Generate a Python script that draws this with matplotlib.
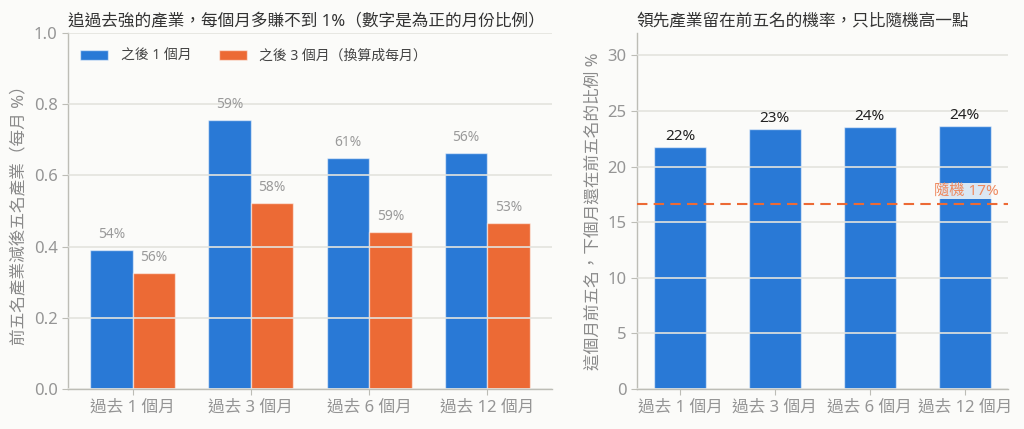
import matplotlib
matplotlib.use("Agg")
import matplotlib.pyplot as plt
import numpy as np

plt.rcParams['font.family'] = ['Noto Sans', 'Noto Sans CJK TC', 'DejaVu Sans']

# Data
categories = ['過去 1 個月', '過去 3 個月', '過去 6 個月', '過去 12 個月']
spread_1m = [0.390, 0.756, 0.649, 0.663]
spread_3m = [0.326, 0.522, 0.441, 0.466]
pos_1m = ['54%', '59%', '61%', '56%']
pos_3m = ['56%', '58%', '59%', '53%']
persist = [21.8, 23.36, 23.54, 23.63]
persist_labels = ['22%', '23%', '24%', '24%']
random_level = 100 / 6

BLUE = '#2979D6'
ORANGE = '#EC6A35'
BG = '#FBFBF9'
GRID = '#E3E3DE'
SPINE = '#BDBDB6'
TICK = '#959595'
TITLE = '#333333'

fig = plt.figure(figsize=(10.24, 4.29), dpi=100, facecolor=BG)
ax1 = fig.add_axes([0.0664, 0.0932, 0.4727, 0.8298])
ax2 = fig.add_axes([0.622, 0.0932, 0.362, 0.8298])

edge = (1, 1, 1, 0.55)

def style(ax):
    ax.set_facecolor(BG)
    for s in ['top', 'right']:
        ax.spines[s].set_visible(False)
    for s in ['left', 'bottom']:
        ax.spines[s].set_color(SPINE)
        ax.spines[s].set_linewidth(1.0)
    ax.tick_params(colors=SPINE, labelcolor=TICK, labelsize=12, length=4)
    ax.grid(axis='y', color=GRID, linewidth=1.2, zorder=3)
    ax.set_axisbelow(False)

# Left chart
x = np.arange(len(categories))
w = 0.36
style(ax1)
b1 = ax1.bar(x - w/2, spread_1m, w, color=BLUE, edgecolor=edge, linewidth=1, label='之後 1 個月', zorder=2)
b2 = ax1.bar(x + w/2, spread_3m, w, color=ORANGE, edgecolor=edge, linewidth=1, label='之後 3 個月（換算成每月）', zorder=2)
for rect, t in zip(b1, pos_1m):
    ax1.annotate(t, (rect.get_x() + rect.get_width()/2, rect.get_height()), xytext=(0, 6),
                 textcoords='offset points', ha='center', va='bottom', fontsize=10, color='#9A9A9A')
for rect, t in zip(b2, pos_3m):
    ax1.annotate(t, (rect.get_x() + rect.get_width()/2, rect.get_height()), xytext=(0, 6),
                 textcoords='offset points', ha='center', va='bottom', fontsize=10, color='#9A9A9A')
ax1.set_ylim(0, 1.0)
ax1.set_yticks([0.0, 0.2, 0.4, 0.6, 0.8, 1.0])
ax1.set_xticks(x)
ax1.set_xticklabels(categories)
ax1.set_ylabel('前五名產業減後五名產業（每月 %）', fontsize=12, color='#8A8A8A', labelpad=4)
ax1.set_title('追過去強的產業，每個月多賺不到 1%（數字是為正的月份比例）', loc='left',
              fontsize=12, color=TITLE, pad=5)
leg = ax1.legend(loc='upper left', ncol=2, frameon=False, fontsize=10, handlelength=2.0,
                 handleheight=0.7, handletextpad=0.9, columnspacing=2.0, bbox_to_anchor=(0.0, 0.99))
for t in leg.get_texts():
    t.set_color('#444444')

# Right chart
style(ax2)
wb = 0.55
b3 = ax2.bar(x, persist, wb, color=BLUE, edgecolor=edge, linewidth=1, zorder=2)
for rect, t in zip(b3, persist_labels):
    ax2.annotate(t, (rect.get_x() + rect.get_width()/2, rect.get_height()), xytext=(0, 2),
                 textcoords='offset points', ha='center', va='bottom', fontsize=11, color='#222222')
ax2.axhline(random_level, color=ORANGE, linestyle=(0, (5, 3)), linewidth=1.5, zorder=4)
ax2.text(3.36, random_level + 0.45, '隨機 17%', ha='right', va='bottom', fontsize=11,
         color='#EE8A60', zorder=5,
         bbox=dict(facecolor=BG, edgecolor='none', alpha=0.85, pad=0.5))
ax2.set_ylim(0, 32)
ax2.set_yticks([0, 5, 10, 15, 20, 25, 30])
ax2.set_xticks(x)
ax2.set_xticklabels(categories)
ax2.set_ylabel('這個月前五名，下個月還在前五名的比例 %', fontsize=12, color='#8A8A8A', labelpad=4)
ax2.set_title('領先產業留在前五名的機率，只比隨機高一點', loc='left', fontsize=12, color=TITLE, pad=5)

fig.savefig('out.png', dpi=100, facecolor=BG)
